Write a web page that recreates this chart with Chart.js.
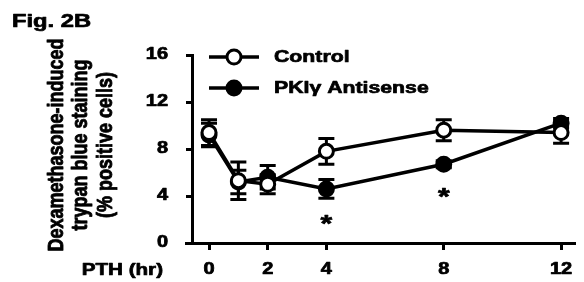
<!DOCTYPE html>
<html>
<head>
<meta charset="utf-8">
<script src="https://cdn.jsdelivr.net/npm/chart.js@4/dist/chart.umd.min.js"></script>
<style>
    html, body { margin: 0; padding: 0; background: #fff; }
    #wrap { width: 584px; height: 282px; }
</style>
</head>
<body>
<div id="wrap"><canvas id="grafica" width="584" height="282"></canvas></div>
<script>
// Datos
const horas = [0, 1, 2, 4, 8, 12];
const controlMedia = [9.4, 5.3, 5.0, 7.8, 9.6, 9.4];
const controlError = [1.1, 1.6, 0.8, 1.1, 0.9, 0.9];
const pkiMedia = [9.2, 5.2, 5.6, 4.6, 6.7, 10.2];
const pkiError = [1.0, 1.0, 1.0, 0.8, 0.3, 0.4];
const ticksX = [0, 2, 4, 8, 12];
const ticksY = [0, 4, 8, 12, 16];
const asteriscoX = [4, 8];
const asteriscoY = [2.0, 4.3];
const etiquetas = ['Control', 'PKI\u03b3 Antisense'];

const FUENTE = '"Liberation Sans", Arial, sans-serif';
const ESTIRA = 1.25; // el texto original está ensanchado

function texto(ctx, str, x, y, size, align, base, rotar) {
    ctx.save();
    ctx.translate(x, y);
    ctx.scale(ESTIRA, 1);
    if (rotar) ctx.rotate(-Math.PI / 2);
    ctx.font = 'bold ' + size + 'px ' + FUENTE;
    ctx.textAlign = align;
    ctx.textBaseline = base;
    ctx.fillStyle = '#000';
    ctx.strokeStyle = '#000';
    ctx.lineWidth = 0.7;
    ctx.lineJoin = 'round';
    ctx.fillText(str, 0, 0);
    ctx.strokeText(str, 0, 0);
    ctx.restore();
}

function circulo(ctx, x, y, relleno) {
    ctx.beginPath();
    ctx.arc(x, y, 7, 0, Math.PI * 2);
    ctx.fillStyle = relleno;
    ctx.fill();
    ctx.lineWidth = 3;
    ctx.strokeStyle = '#000';
    ctx.stroke();
}

// Barras de error, dibujadas antes de los puntos
const barrasError = {
    id: 'barrasError',
    beforeDatasetsDraw(chart) {
        const ctx = chart.ctx;
        const sx = chart.scales.x, sy = chart.scales.y;
        const area = chart.chartArea;
        // prolongación del eje x a la izquierda del eje y
        ctx.save();
        ctx.strokeStyle = '#000';
        ctx.lineWidth = 3;
        ctx.beginPath();
        ctx.moveTo(area.left - 7, area.bottom + 0.5);
        ctx.lineTo(area.left, area.bottom + 0.5);
        ctx.stroke();
        ctx.restore();

        [pkiError, controlError].forEach((err, k) => {
            const medias = k === 0 ? pkiMedia : controlMedia;
            horas.forEach((h, i) => {
                const px = sx.getPixelForValue(h);
                const arriba = sy.getPixelForValue(medias[i] + err[i]);
                const abajo = sy.getPixelForValue(medias[i] - err[i]);
                ctx.save();
                ctx.strokeStyle = '#000';
                ctx.lineWidth = 3;
                ctx.beginPath();
                ctx.moveTo(px, arriba); ctx.lineTo(px, abajo);
                ctx.moveTo(px - 8, arriba); ctx.lineTo(px + 8, arriba);
                ctx.moveTo(px - 8, abajo); ctx.lineTo(px + 8, abajo);
                ctx.stroke();
                ctx.restore();
            });
        });
    }
};

// Textos: etiquetas de ejes, leyenda, asteriscos, título
const textos = {
    id: 'textos',
    afterDraw(chart) {
        const ctx = chart.ctx;
        const sx = chart.scales.x, sy = chart.scales.y;
        const area = chart.chartArea;

        ticksY.forEach(v => texto(ctx, String(v), 168, sy.getPixelForValue(v), 16, 'right', 'middle'));
        ticksX.forEach(v => texto(ctx, String(v), sx.getPixelForValue(v), 270, 16, 'center', 'middle'));

        texto(ctx, 'Fig. 2B', 12, 27, 19, 'left', 'alphabetic');
        texto(ctx, 'PTH (hr)', 163, 270, 16.5, 'right', 'middle');

        const yc = (area.top + area.bottom) / 2 - 4;
        texto(ctx, 'Dexamethasone-induced', 63, yc, 18, 'center', 'alphabetic', true);
        texto(ctx, 'trypan blue staining', 87, yc, 18, 'center', 'alphabetic', true);
        texto(ctx, '(% positive cells)', 112, yc, 18, 'center', 'alphabetic', true);

        asteriscoX.forEach((v, i) =>
            texto(ctx, '*', sx.getPixelForValue(v), sy.getPixelForValue(asteriscoY[i]) + 6, 24, 'center', 'middle'));

        // Leyenda
        const rellenos = ['#fff', '#000'];
        const filas = [57, 88];
        etiquetas.forEach((et, i) => {
            const x0 = area.left + 17;
            ctx.save();
            ctx.strokeStyle = '#000';
            ctx.lineWidth = 3.5;
            ctx.beginPath();
            ctx.moveTo(x0, filas[i]);
            ctx.lineTo(x0 + 50, filas[i]);
            ctx.stroke();
            circulo(ctx, x0 + 25, filas[i], rellenos[i]);
            ctx.restore();
            texto(ctx, et, x0 + 65, filas[i], 17, 'left', 'middle');
        });
    }
};

const ctx = document.getElementById('grafica').getContext('2d');

const serie = (medias) => horas.map((h, i) => ({ x: h, y: medias[i] }));

new Chart(ctx, {
    type: 'line',
    data: {
        datasets: [
            {
                label: etiquetas[1],
                data: serie(pkiMedia),
                borderColor: '#000',
                backgroundColor: '#000',
                borderWidth: 3.5,
                pointRadius: 7,
                pointBorderWidth: 3,
                pointBackgroundColor: '#000',
                pointBorderColor: '#000',
                tension: 0,
                order: 2
            },
            {
                label: etiquetas[0],
                data: serie(controlMedia),
                borderColor: '#000',
                backgroundColor: '#fff',
                borderWidth: 3.5,
                pointRadius: 7,
                pointBorderWidth: 3,
                pointBackgroundColor: '#fff',
                pointBorderColor: '#000',
                tension: 0,
                order: 1
            }
        ]
    },
    options: {
        responsive: false,
        animation: false,
        devicePixelRatio: 1,
        clip: false,
        layout: { padding: { left: 186, right: 9, top: 55, bottom: 32 } },
        plugins: {
            legend: { display: false },
            tooltip: { enabled: false }
        },
        scales: {
            x: {
                type: 'linear',
                min: -0.58,
                max: 12.44,
                afterBuildTicks: (scale) => { scale.ticks = ticksX.map(v => ({ value: v })); },
                ticks: { display: false },
                grid: { drawOnChartArea: false, drawTicks: true, tickLength: 7, color: '#000', lineWidth: 3 },
                border: { display: true, color: '#000', width: 3 }
            },
            y: {
                min: 0,
                max: 16,
                afterBuildTicks: (scale) => { scale.ticks = ticksY.map(v => ({ value: v })); },
                ticks: { display: false },
                grid: { drawOnChartArea: false, drawTicks: true, tickLength: 6, color: '#000', lineWidth: 3 },
                border: { display: true, color: '#000', width: 3 }
            }
        }
    },
    plugins: [barrasError, textos]
});
</script>
</body>
</html>
